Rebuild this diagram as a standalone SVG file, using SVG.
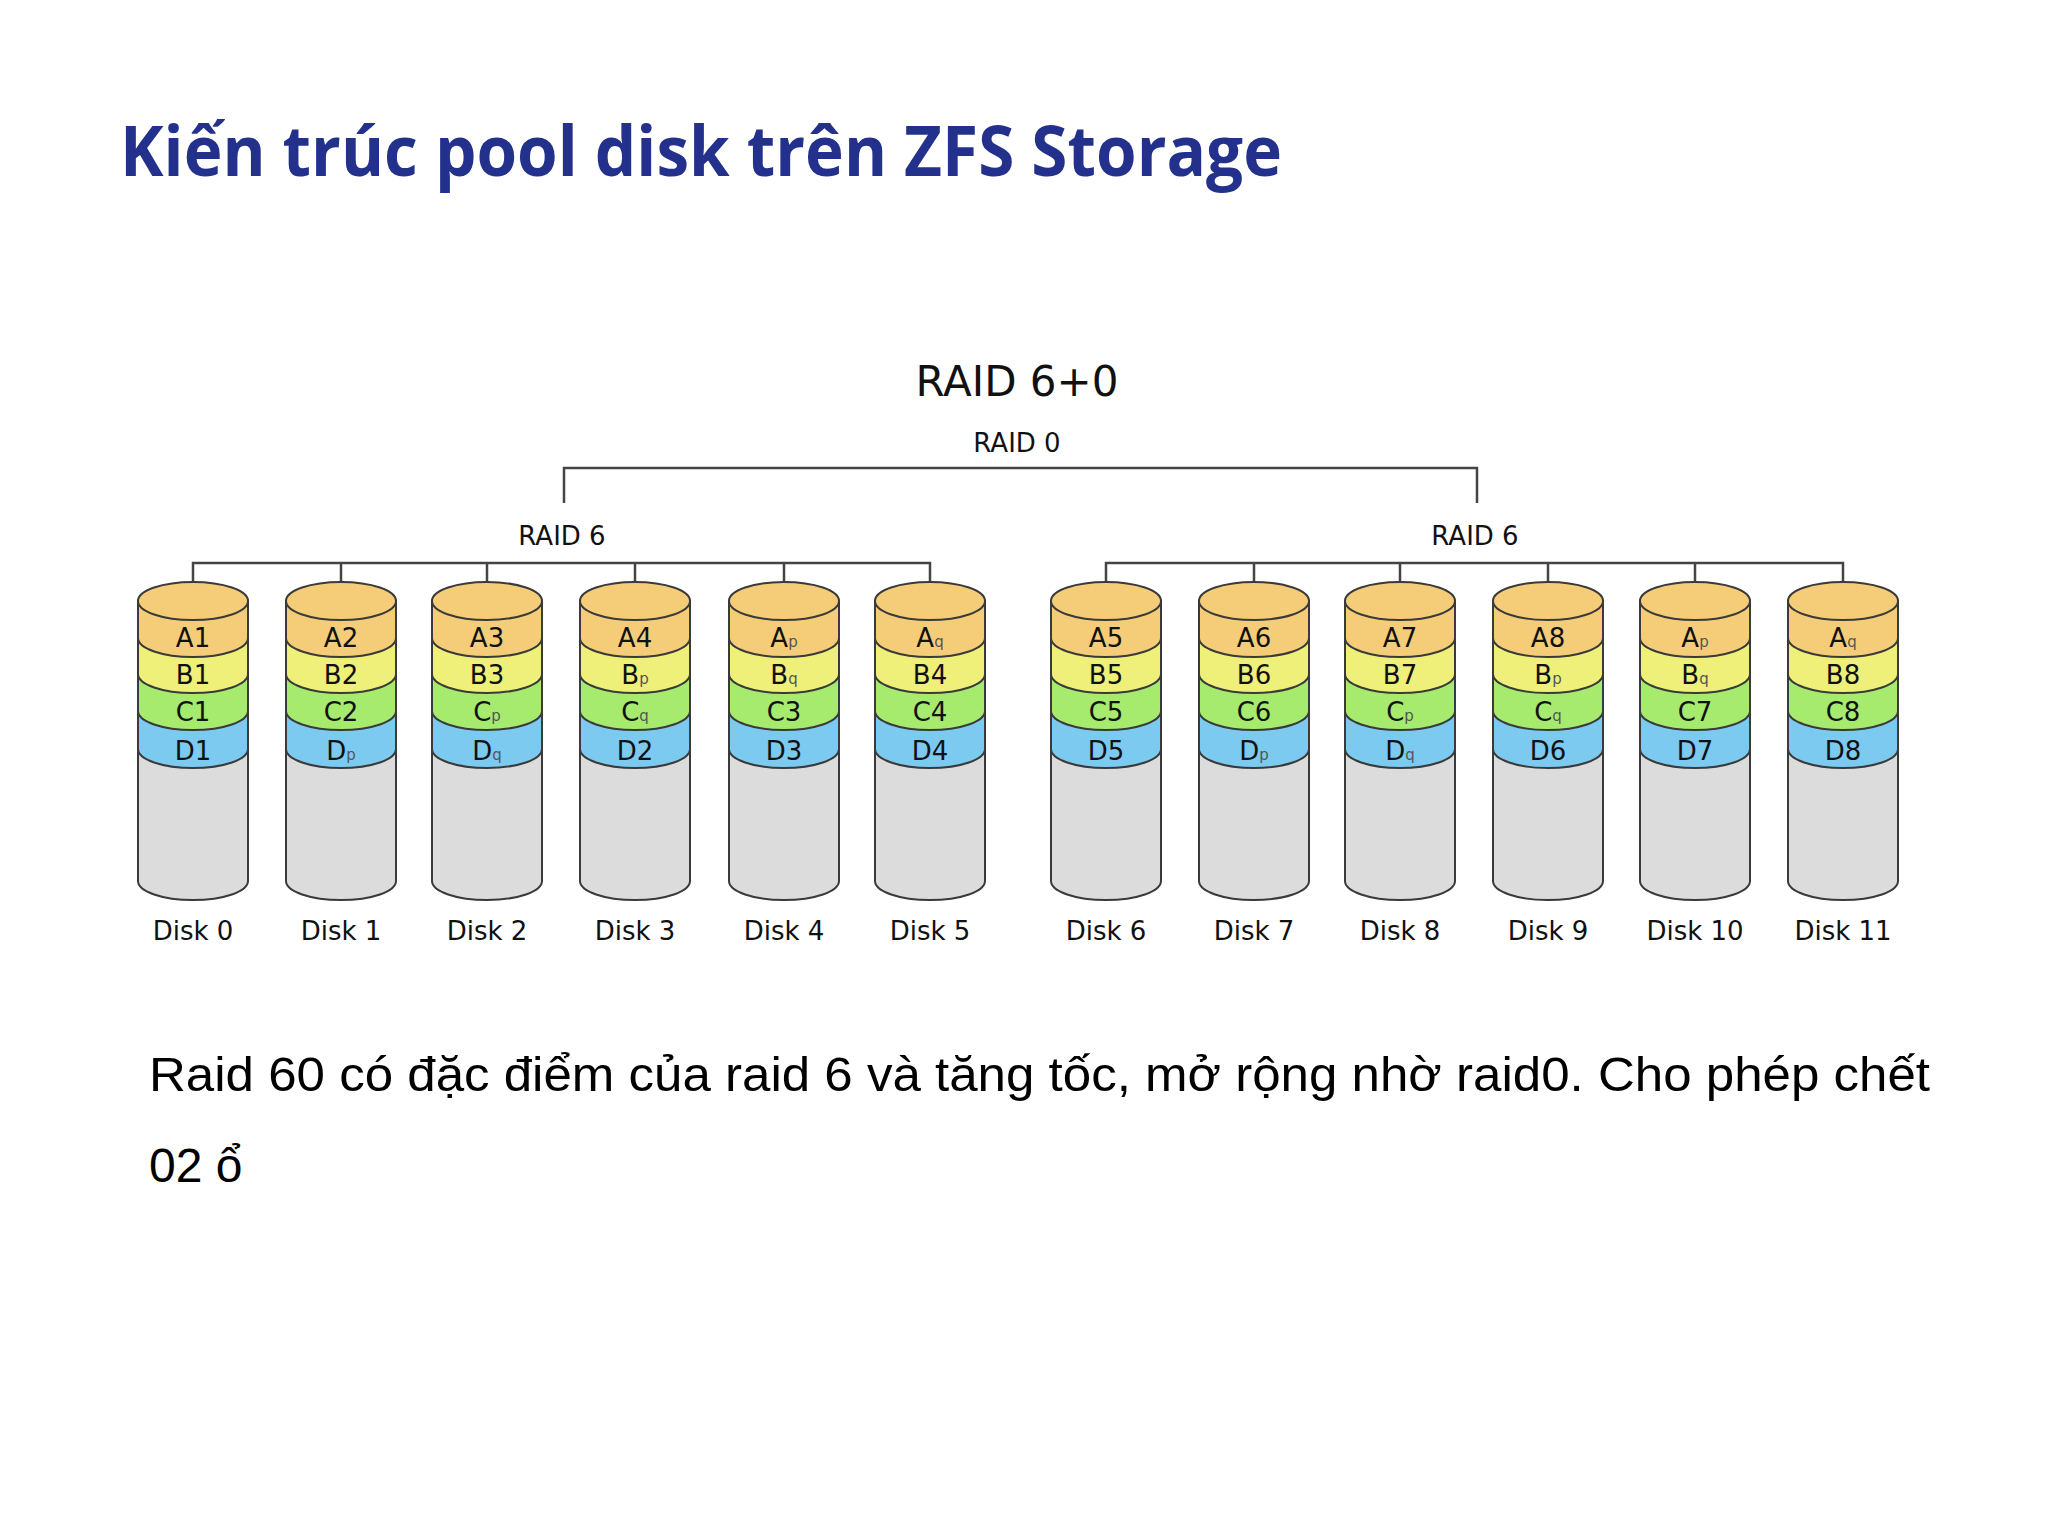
<svg xmlns="http://www.w3.org/2000/svg" xmlns:xlink="http://www.w3.org/1999/xlink" width="2048" height="1536" viewBox="0 0 2048 1536">
<style>
.s{stroke:#3a3a3a;stroke-width:2}
.t{font-family:"DejaVu Sans",sans-serif;font-size:26px;fill:#111;text-anchor:middle}
.sub{font-size:15px;fill:#555}
.ln{stroke:#444;stroke-width:2.5;fill:none}
</style>
<defs>
<g id="cyl">
<path class="s" fill="#dcdcdc" d="M-55,601 V881 A55 19 0 0 0 55 881 V601 Z"/>
<path class="s" fill="#7ccaf0" d="M-55,601 V749 A55 19 0 0 0 55 749 V601 Z"/>
<path class="s" fill="#a6ea6e" d="M-55,601 V711 A55 19 0 0 0 55 711 V601 Z"/>
<path class="s" fill="#eef07a" d="M-55,601 V674 A55 19 0 0 0 55 674 V601 Z"/>
<path class="s" fill="#f5cd78" d="M-55,601 V638 A55 19 0 0 0 55 638 V601 Z"/>
<ellipse class="s" fill="#f5cd78" cx="0" cy="601" rx="55" ry="19"/>
</g>
</defs>
<rect width="2048" height="1536" fill="#fff"/>
<text x="120" y="176" font-family="'Open Sans',sans-serif" font-weight="bold" font-size="70" fill="#23318c" textLength="1162" lengthAdjust="spacingAndGlyphs">Kiến trúc pool disk trên ZFS Storage</text>
<text x="1017" y="396" class="t" font-size="42" style="font-size:42px">RAID 6+0</text>
<text x="1017" y="452" class="t">RAID 0</text>
<text x="562" y="545" class="t">RAID 6</text>
<text x="1475" y="545" class="t">RAID 6</text>
<g id="connectors">
<path class="ln" d="M564,503 V468 H1477 V503"/>
<path class="ln" d="M193,601 V563 H930 V601 M341,563 V601 M487,563 V601 M635,563 V601 M784,563 V601"/>
<path class="ln" d="M1106,601 V563 H1843 V601 M1254,563 V601 M1400,563 V601 M1548,563 V601 M1695,563 V601"/>
</g>
<g id="disk0" transform="translate(193,0)"><use xlink:href="#cyl"/><text class="t" y="647">A1</text><text class="t" y="684">B1</text><text class="t" y="721">C1</text><text class="t" y="760">D1</text><text class="t" y="940">Disk 0</text></g>
<g id="disk1" transform="translate(341,0)"><use xlink:href="#cyl"/><text class="t" y="647">A2</text><text class="t" y="684">B2</text><text class="t" y="721">C2</text><text class="t" y="760">D<tspan class="sub">p</tspan></text><text class="t" y="940">Disk 1</text></g>
<g id="disk2" transform="translate(487,0)"><use xlink:href="#cyl"/><text class="t" y="647">A3</text><text class="t" y="684">B3</text><text class="t" y="721">C<tspan class="sub">p</tspan></text><text class="t" y="760">D<tspan class="sub">q</tspan></text><text class="t" y="940">Disk 2</text></g>
<g id="disk3" transform="translate(635,0)"><use xlink:href="#cyl"/><text class="t" y="647">A4</text><text class="t" y="684">B<tspan class="sub">p</tspan></text><text class="t" y="721">C<tspan class="sub">q</tspan></text><text class="t" y="760">D2</text><text class="t" y="940">Disk 3</text></g>
<g id="disk4" transform="translate(784,0)"><use xlink:href="#cyl"/><text class="t" y="647">A<tspan class="sub">p</tspan></text><text class="t" y="684">B<tspan class="sub">q</tspan></text><text class="t" y="721">C3</text><text class="t" y="760">D3</text><text class="t" y="940">Disk 4</text></g>
<g id="disk5" transform="translate(930,0)"><use xlink:href="#cyl"/><text class="t" y="647">A<tspan class="sub">q</tspan></text><text class="t" y="684">B4</text><text class="t" y="721">C4</text><text class="t" y="760">D4</text><text class="t" y="940">Disk 5</text></g>
<g id="disk6" transform="translate(1106,0)"><use xlink:href="#cyl"/><text class="t" y="647">A5</text><text class="t" y="684">B5</text><text class="t" y="721">C5</text><text class="t" y="760">D5</text><text class="t" y="940">Disk 6</text></g>
<g id="disk7" transform="translate(1254,0)"><use xlink:href="#cyl"/><text class="t" y="647">A6</text><text class="t" y="684">B6</text><text class="t" y="721">C6</text><text class="t" y="760">D<tspan class="sub">p</tspan></text><text class="t" y="940">Disk 7</text></g>
<g id="disk8" transform="translate(1400,0)"><use xlink:href="#cyl"/><text class="t" y="647">A7</text><text class="t" y="684">B7</text><text class="t" y="721">C<tspan class="sub">p</tspan></text><text class="t" y="760">D<tspan class="sub">q</tspan></text><text class="t" y="940">Disk 8</text></g>
<g id="disk9" transform="translate(1548,0)"><use xlink:href="#cyl"/><text class="t" y="647">A8</text><text class="t" y="684">B<tspan class="sub">p</tspan></text><text class="t" y="721">C<tspan class="sub">q</tspan></text><text class="t" y="760">D6</text><text class="t" y="940">Disk 9</text></g>
<g id="disk10" transform="translate(1695,0)"><use xlink:href="#cyl"/><text class="t" y="647">A<tspan class="sub">p</tspan></text><text class="t" y="684">B<tspan class="sub">q</tspan></text><text class="t" y="721">C7</text><text class="t" y="760">D7</text><text class="t" y="940">Disk 10</text></g>
<g id="disk11" transform="translate(1843,0)"><use xlink:href="#cyl"/><text class="t" y="647">A<tspan class="sub">q</tspan></text><text class="t" y="684">B8</text><text class="t" y="721">C8</text><text class="t" y="760">D8</text><text class="t" y="940">Disk 11</text></g>
<text x="149" y="1091" font-family="'Liberation Sans',sans-serif" font-size="48" fill="#000" textLength="1781" lengthAdjust="spacingAndGlyphs">Raid 60 có đặc điểm của raid 6 và tăng tốc, mở rộng nhờ raid0. Cho phép chết</text>
<text x="149" y="1182" font-family="'Liberation Sans',sans-serif" font-size="48" fill="#000">02 ổ</text>
</svg>
